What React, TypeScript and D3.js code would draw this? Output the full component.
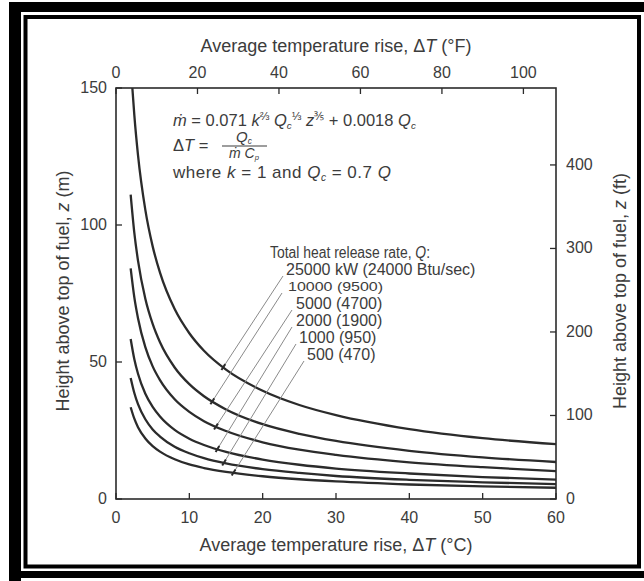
import React from "react";
import * as d3 from "d3";

// ---- Axis ticks ----
const X_C_TICKS = [0, 10, 20, 30, 40, 50, 60];
const X_F_TICKS = [0, 20, 40, 60, 80, 100];
const Z_M_TICKS = [0, 50, 100, 150];
const Z_FT_TICKS = [0, 100, 200, 300, 400];

// ---- Curve data: average temperature rise (°C) vs height (m) ----
const DT_COMMON = [2, 2.5, 3, 4, 5, 6, 8, 10, 12, 15, 20, 25, 30, 40, 50, 60];
const DT_25000 = [2.23, 2.5, 3, 4, 5, 6, 8, 10, 12, 15, 20, 25, 30, 40, 50, 60];
const Z_25000 = [150, 140.1, 125.5, 105.5, 92.2, 82.6, 69.3, 60.5, 54.1, 47.2, 39.5, 34.3, 30.6, 25.5, 22.2, 20.0];
const Z_10000 = [111.1, 97.1, 87.0, 73.1, 63.9, 57.2, 48.0, 41.9, 37.5, 32.7, 27.3, 23.8, 21.2, 17.6, 15.2, 13.5];
const Z_5000 = [84.2, 73.6, 66.0, 55.4, 48.4, 43.4, 36.4, 31.8, 28.4, 24.8, 20.7, 18.0, 16.1, 13.4, 11.6, 10.2];
const Z_2000 = [58.4, 51.0, 45.7, 38.4, 33.6, 30.1, 25.2, 22.0, 19.7, 17.2, 14.4, 12.5, 11.1, 9.3, 8.0, 7.1];
const Z_1000 = [44.2, 38.7, 34.6, 29.1, 25.4, 22.8, 19.1, 16.7, 14.9, 13.0, 10.9, 9.5, 8.4, 7.0, 6.1, 5.4];
const Z_500 = [33.5, 29.3, 26.2, 22.1, 19.3, 17.3, 14.5, 12.6, 11.3, 9.9, 8.3, 7.2, 6.4, 5.3, 4.6, 4.1];

const SERIES_LABELS = [
  "25000 kW (24000 Btu/sec)",
  "10000 (9500)",
  "5000 (4700)",
  "2000 (1900)",
  "1000 (950)",
  "500 (470)",
];
// where each leader line touches its curve (ΔT °C, z m)
const ANCHOR_DT = [14.6, 13.1, 13.6, 13.8, 14.7, 16.0];
const ANCHOR_Z = [48.0, 35.5, 26.3, 18.1, 13.2, 9.5];

const W = 644;
const H = 581;
const PL = 116, PR = 556, PT = 88, PB = 499;
const INK = "#2b2b2b";
const TXT = "#3c3c3c";
const FONT = "'Liberation Sans', Arial, Helvetica, sans-serif";

type Seg = { t: string; i?: boolean; s?: number; sh?: number };

function RichText({ x, y, size, segs, anchor, ls }: { x: number; y: number; size: number; segs: Seg[]; anchor?: string; ls?: number }) {
  let prev = 0;
  return (
    <text x={x} y={y} fontSize={size} fill={TXT} fontFamily={FONT} textAnchor={anchor || "start"} letterSpacing={ls || 0}>
      {segs.map((g, k) => {
        const sh = g.sh || 0;
        const dy = sh - prev;
        prev = sh;
        return (
          <tspan key={k} dy={dy} fontStyle={g.i ? "italic" : "normal"} fontSize={g.s ? size * g.s : size}>
            {g.t}
          </tspan>
        );
      })}
    </text>
  );
}

export default function App() {
  const x = d3.scaleLinear().domain([0, 60]).range([PL, PR]);
  const xF = d3.scaleLinear().domain([0, 108]).range([PL, PR]);
  const y = d3.scaleLinear().domain([0, 150]).range([PB, PT]);
  const yFt = d3.scaleLinear().domain([0, 150 * 3.28084]).range([PB, PT]);

  const series = [
    { dt: DT_25000, z: Z_25000 },
    { dt: DT_COMMON, z: Z_10000 },
    { dt: DT_COMMON, z: Z_5000 },
    { dt: DT_COMMON, z: Z_2000 },
    { dt: DT_COMMON, z: Z_1000 },
    { dt: DT_COMMON, z: Z_500 },
  ];
  const line = d3
    .line<[number, number]>()
    .x((d) => x(d[0]))
    .y((d) => y(d[1]))
    .curve(d3.curveMonotoneX);

  // legend text layout
  const legX = [286, 288, 296, 296, 299, 307];
  const legY = [270, 287, 304, 321, 338, 355];
  const leadTop = [
    [283, 276],
    [282, 293],
    [292, 310],
    [292, 327],
    [296, 344],
    [304, 361],
  ];

  const tickLen = 6;

  return (
    <svg
      width={W}
      height={H}
      viewBox={`0 0 ${W} ${H}`}
      style={{ position: "absolute", left: 0, top: 0, background: "#fff" }}
    >
      <rect x={0} y={0} width={W} height={H} fill="#fff" />
      {/* outer frame bands */}
      <rect x={9} y={2} width={W - 9} height={10} fill="#000" />
      <rect x={9} y={2} width={12} height={H - 2} fill="#000" />
      <rect x={9} y={571} width={W - 9} height={7} fill="#000" />
      {/* inner frame */}
      <rect x={25.5} y={17} width={613.5} height={549.5} fill="none" stroke="#000" strokeWidth={4} />

      {/* plot box */}
      <rect x={PL} y={PT} width={PR - PL} height={PB - PT} fill="none" stroke={INK} strokeWidth={1.6} />

      {/* bottom axis */}
      {X_C_TICKS.map((t) => (
        <g key={"xb" + t}>
          <line x1={x(t)} x2={x(t)} y1={PB} y2={PB - tickLen} stroke={INK} strokeWidth={1.3} />
          <text x={x(t)} y={523} fontSize={16} textAnchor="middle" fill={TXT} fontFamily={FONT}>
            {t}
          </text>
        </g>
      ))}
      {/* top axis */}
      {X_F_TICKS.map((t) => (
        <g key={"xt" + t}>
          <line x1={xF(t)} x2={xF(t)} y1={PT} y2={PT + tickLen} stroke={INK} strokeWidth={1.3} />
          <text x={xF(t)} y={78} fontSize={16} textAnchor="middle" fill={TXT} fontFamily={FONT}>
            {t}
          </text>
        </g>
      ))}
      {/* left axis */}
      {Z_M_TICKS.map((t) => (
        <g key={"yl" + t}>
          <line x1={PL} x2={PL + tickLen} y1={y(t)} y2={y(t)} stroke={INK} strokeWidth={1.3} />
          <text x={107} y={y(t) + 5} fontSize={16} textAnchor="end" fill={TXT} fontFamily={FONT}>
            {t}
          </text>
        </g>
      ))}
      {/* right axis */}
      {Z_FT_TICKS.map((t) => (
        <g key={"yr" + t}>
          <line x1={PR} x2={PR - tickLen} y1={yFt(t)} y2={yFt(t)} stroke={INK} strokeWidth={1.3} />
          <text x={566} y={yFt(t) + 5} fontSize={16} textAnchor="start" fill={TXT} fontFamily={FONT}>
            {t}
          </text>
        </g>
      ))}

      {/* axis titles */}
      <RichText
        x={336}
        y={52}
        size={18}
        anchor="middle"
        segs={[{ t: "Average temperature rise, Δ" }, { t: "T", i: true }, { t: " (°F)" }]}
      />
      <RichText
        x={336}
        y={551}
        size={18}
        anchor="middle"
        segs={[{ t: "Average temperature rise, Δ" }, { t: "T", i: true }, { t: " (°C)" }]}
      />
      <g transform="translate(69,291) rotate(-90)">
        <RichText
          x={0}
          y={0}
          size={18}
          anchor="middle"
          segs={[{ t: "Height above top of fuel, " }, { t: "z", i: true }, { t: " (m)" }]}
        />
      </g>
      <g transform="translate(626,291) rotate(-90)">
        <RichText
          x={0}
          y={0}
          size={18}
          anchor="middle"
          segs={[{ t: "Height above top of fuel, " }, { t: "z", i: true }, { t: " (ft)" }]}
        />
      </g>

      {/* curves */}
      <defs>
        <clipPath id="plotclip">
          <rect x={PL} y={PT} width={PR - PL} height={PB - PT} />
        </clipPath>
      </defs>
      <g clipPath="url(#plotclip)">
        {series.map((s, k) => (
          <path
            key={"c" + k}
            d={line(s.dt.map((d, j) => [d, s.z[j]] as [number, number])) || ""}
            fill="none"
            stroke={INK}
            strokeWidth={2.3}
          />
        ))}
      </g>

      {/* leader lines and markers */}
      {SERIES_LABELS.map((lab, k) => {
        const ax = x(ANCHOR_DT[k]);
        const ay = y(ANCHOR_Z[k]);
        const [lx, ly] = leadTop[k];
        const dx = ax - lx;
        const dy = ay - ly;
        const len = Math.sqrt(dx * dx + dy * dy);
        const ux = dx / len;
        const uy = dy / len;
        return (
          <g key={"l" + k}>
            <line x1={lx} y1={ly} x2={ax} y2={ay} stroke="#8a8a8a" strokeWidth={1} />
            <line x1={ax - ux * 4} y1={ay - uy * 4} x2={ax + ux * 3} y2={ay + uy * 3} stroke={INK} strokeWidth={2} />
          </g>
        );
      })}

      {/* legend */}
      <g transform="translate(270,258) scale(0.87,1)">
        <RichText
          x={0}
          y={0}
          size={16}
          segs={[{ t: "Total heat release rate, " }, { t: "Q", i: true }, { t: ":" }]}
        />
      </g>
      {SERIES_LABELS.map((lab, k) =>
        k === 1 ? (
          <g key={"t" + k} transform={`translate(${legX[k]},${legY[k] + 4}) scale(1,0.75)`}>
            <text x={0} y={0} fontSize={16} fill={TXT} fontFamily={FONT}>
              {lab}
            </text>
          </g>
        ) : (
          <text key={"t" + k} x={legX[k]} y={legY[k] + 5} fontSize={16} fill={TXT} fontFamily={FONT}>
            {lab}
          </text>
        )
      )}

      {/* formula block */}
      <RichText
        x={173}
        y={126}
        size={16.5}
        segs={[
          { t: "ṁ", i: true },
          { t: " = 0.071 " },
          { t: "k", i: true },
          { t: "⅔", s: 0.7, sh: -6 },
          { t: " " },
          { t: "Q", i: true },
          { t: "c", i: true, s: 0.6, sh: 3 },
          { t: "⅓", s: 0.7, sh: -6 },
          { t: " " },
          { t: "z", i: true },
          { t: "⅗", s: 0.7, sh: -6 },
          { t: " + 0.0018 " },
          { t: "Q", i: true },
          { t: "c", i: true, s: 0.6, sh: 3 },
        ]}
      />
      <RichText x={173} y={151} size={16.5} segs={[{ t: "Δ" }, { t: "T", i: true }, { t: " =" }]} />
      <RichText
        x={244}
        y={142}
        size={15}
        anchor="middle"
        segs={[{ t: "Q", i: true }, { t: "c", i: true, s: 0.55, sh: 2 }]}
      />
      <line x1={222} x2={267} y1={146} y2={146} stroke={TXT} strokeWidth={1.1} />
      <RichText
        x={244}
        y={158}
        size={14}
        anchor="middle"
        segs={[{ t: "ṁ", i: true }, { t: " " }, { t: "C", i: true }, { t: "p", i: true, s: 0.55, sh: 2 }]}
      />
      <RichText
        x={173}
        y={178}
        size={17}
        ls={0.5}
        segs={[
          { t: "where " },
          { t: "k", i: true },
          { t: " = 1 and " },
          { t: "Q", i: true },
          { t: "c", i: true, s: 0.6, sh: 3 },
          { t: " = 0.7 ", sh: 0 },
          { t: "Q", i: true },
        ]}
      />
    </svg>
  );
}
